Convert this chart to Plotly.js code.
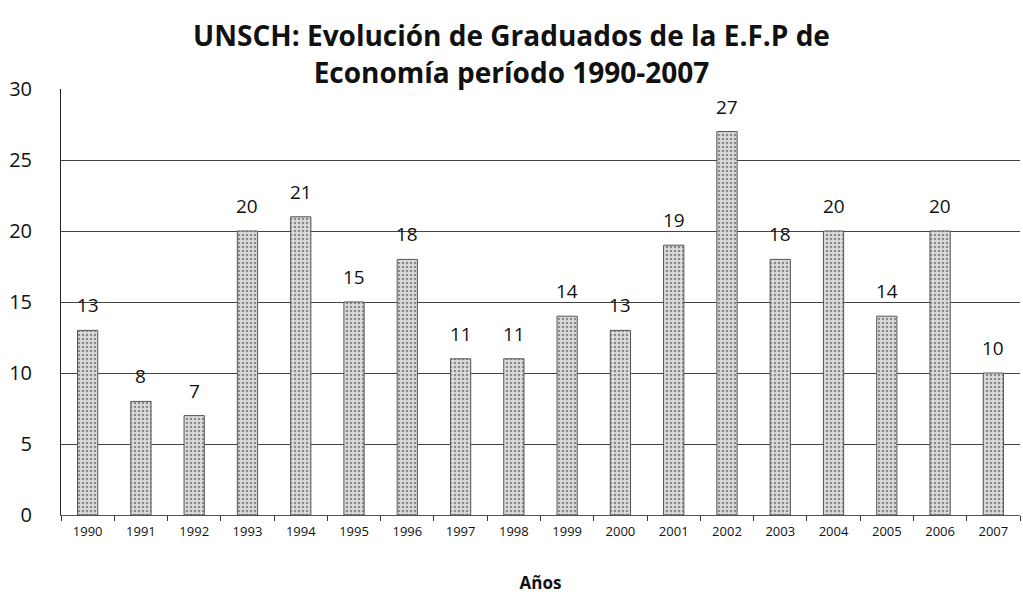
<!DOCTYPE html>
<html>
<head>
<meta charset="utf-8">
<script src="https://cdn.plot.ly/plotly-3.0.1.min.js"></script>
<style>html,body{margin:0;padding:0;background:#fff;}#chart{width:1023px;height:596px;}</style>
</head>
<body>
<div id="chart"></div>
<script>
const years = ["1990","1991","1992","1993","1994","1995","1996","1997","1998","1999","2000","2001","2002","2003","2004","2005","2006","2007"];
const graduados = [13,8,7,20,21,15,18,11,11,14,13,19,27,18,20,14,20,10];
const yTicks = [0,5,10,15,20,25,30];

const trace = {
  type: 'bar',
  x: years,
  y: graduados,
  width: 0.38,
  marker: {
    color: '#d4d4d4',
    line: {color: '#555', width: 1},
    pattern: {shape: '.', fgcolor: '#8a8a8a', bgcolor: '#dcdcdc', size: 4, solidity: 0.3}
  },
  hoverinfo: 'x+y'
};

const labelAnnotations = years.map((yr, i) => ({
  x: i, y: graduados[i], xref: 'x', yref: 'y',
  text: String(graduados[i]), showarrow: false,
  yanchor: 'bottom', yshift: 10,
  font: {family: 'Open Sans, sans-serif', size: 19, color: '#111'}
}));

const layout = {
  width: 1023, height: 596,
  margin: {l: 61, r: 3, t: 89, b: 81},
  paper_bgcolor: '#fff', plot_bgcolor: '#fff',
  font: {family: 'Open Sans, sans-serif', color: '#111'},
  title: {
    text: 'UNSCH: Evolución de Graduados de la E.F.P de<br>Economía período 1990-2007',
    font: {family: 'Open Sans, sans-serif', size: 28, color: '#111', weight: 'bold'},
    x: 0.5, xanchor: 'center', xref: 'container', yref: 'container', y: 0.922, yanchor: 'middle'
  },
  showlegend: false,
  annotations: labelAnnotations,
  xaxis: {
    type: 'category',
    range: [-0.5, years.length - 0.5],
    autorange: false,
    tickfont: {size: 13, color: '#111'},
    tickangle: 0,
    ticks: 'outside', tickson: 'boundaries', ticklen: 5, tickcolor: '#333',
    ticklabelstandoff: 4,
    showline: true, linecolor: '#555', linewidth: 1,
    title: {text: 'Años', font: {size: 17, weight: 'bold', color: '#111'}, standoff: 38}
  },
  yaxis: {
    range: [0, 30],
    autorange: false,
    tickvals: yTicks,
    tickfont: {size: 20, color: '#111'},
    showgrid: true, gridcolor: '#444', gridwidth: 1,
    showline: true, linecolor: '#222', linewidth: 1,
    zeroline: false,
    ticks: '', ticklabelstandoff: 24
  }
};

Plotly.newPlot('chart', [trace], layout, {displayModeBar: false, staticPlot: true});
</script>
</body>
</html>
